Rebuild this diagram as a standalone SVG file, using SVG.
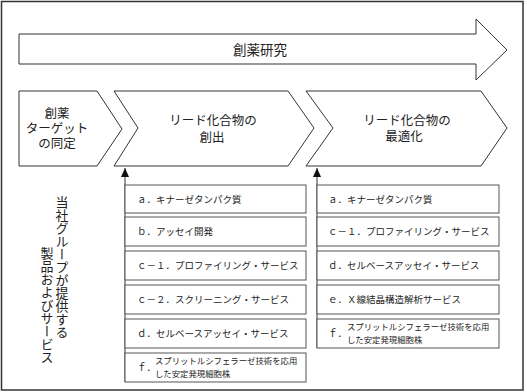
<svg xmlns="http://www.w3.org/2000/svg" width="527" height="392" viewBox="0 0 527 392">
<defs>
<style>
.shape{fill:#fff;stroke:#333;stroke-width:1}
.box{fill:#fff;stroke:#555;stroke-width:1}
.t{font-family:"Noto Sans CJK JP","Noto Sans CJK SC",sans-serif;fill:#222}
.tl{font-family:"Liberation Sans","Noto Sans CJK JP","Noto Sans CJK SC",sans-serif;fill:#222}
.big{font-size:13.5px;text-anchor:middle}
.chev{font-size:12.5px;text-anchor:middle}
.bt{font-size:9.5px}
.st{font-size:8.4px}
.vt{font-size:13px;writing-mode:vertical-rl}
.conn{stroke:#333;stroke-width:1;fill:none}
</style>
<marker id="ah" markerWidth="9" markerHeight="8" refX="9" refY="4" orient="auto" markerUnits="userSpaceOnUse" viewBox="0 0 9 8">
<path d="M0,0 L9,4 L0,8 Z" fill="#111"/>
</marker>
</defs>
<rect x="1.5" y="1.5" width="521.5" height="388.5" fill="#fff" stroke="#333" stroke-width="1.5"/>

<g id="research">
<path class="shape" d="M19,34 L476,34 L476,19 L507,50 L476,80 L476,64 L19,64 Z"/>
<text class="t big" x="260" y="55">創薬研究</text>
</g>

<g id="stage1">
<path class="shape" d="M19,91 L97,91 L122,129 L97,166 L19,166 Z"/>
<text class="tl chev" x="57" y="118">創薬<tspan x="57" dy="15">ターゲット</tspan><tspan x="57" dy="15">の同定</tspan></text>
</g>

<g id="stage2">
<path class="shape" d="M114,91 L288,91 L314,128 L288,166 L114,166 L138,128 Z"/>
<text class="tl chev" x="213" y="125">リード化合物の<tspan x="212" dy="17">創出</tspan></text>
</g>

<g id="stage3">
<path class="shape" d="M306,91 L481,91 L507,128 L481,166 L306,166 L333,128 Z"/>
<text class="tl chev" x="407" y="125">リード化合物の<tspan x="404" dy="16">最適化</tspan></text>
</g>

<g id="label">
<text class="t vt" x="62" y="196">当社グループが提供する</text>
<text class="t vt" x="47" y="247">製品およびサービス</text>
</g>

<g id="connectors">
<line class="conn" x1="125" y1="382" x2="125" y2="168" marker-end="url(#ah)"/>
<line class="conn" x1="317" y1="348" x2="317" y2="168" marker-end="url(#ah)"/>
</g>

<g id="left-a"><rect class="box" x="125" y="185" width="181" height="28"/><text class="t bt" x="137" y="202.5">ａ．キナーゼタンパク質</text></g>
<g id="left-b"><rect class="box" x="125" y="217" width="181" height="29"/><text class="t bt" x="137" y="235">ｂ．アッセイ開発</text></g>
<g id="left-c1"><rect class="box" x="125" y="251" width="181" height="29"/><text class="t bt" x="137" y="269">ｃ－１．プロファイリング・サービス</text></g>
<g id="left-c2"><rect class="box" x="125" y="285" width="181" height="29"/><text class="t bt" x="137" y="303">ｃ－２．スクリーニング・サービス</text></g>
<g id="left-d"><rect class="box" x="125" y="319" width="181" height="29"/><text class="t bt" x="137" y="337">ｄ．セルベースアッセイ・サービス</text></g>
<g id="left-f"><rect class="box" x="125" y="353" width="181" height="29"/><text class="t bt" x="137" y="371">ｆ．</text><text class="t st" x="155" y="364">スプリットルシフェラーゼ技術を応用<tspan x="155" dy="13">した安定発現細胞株</tspan></text></g>

<g id="right-a"><rect class="box" x="317" y="185" width="182" height="28"/><text class="t bt" x="328" y="202.5">ａ．キナーゼタンパク質</text></g>
<g id="right-c1"><rect class="box" x="317" y="217" width="182" height="29"/><text class="t bt" x="328" y="235">ｃ－１．プロファイリング・サービス</text></g>
<g id="right-d"><rect class="box" x="317" y="251" width="182" height="29"/><text class="t bt" x="328" y="269">ｄ．セルベースアッセイ・サービス</text></g>
<g id="right-e"><rect class="box" x="317" y="285" width="182" height="29"/><text class="t bt" x="328" y="303">ｅ．Ｘ線結晶構造解析サービス</text></g>
<g id="right-f"><rect class="box" x="317" y="319" width="182" height="29"/><text class="t bt" x="328" y="337">ｆ．</text><text class="t st" x="347" y="330">スプリットルシフェラーゼ技術を応用<tspan x="347" dy="13">した安定発現細胞株</tspan></text></g>
</svg>
